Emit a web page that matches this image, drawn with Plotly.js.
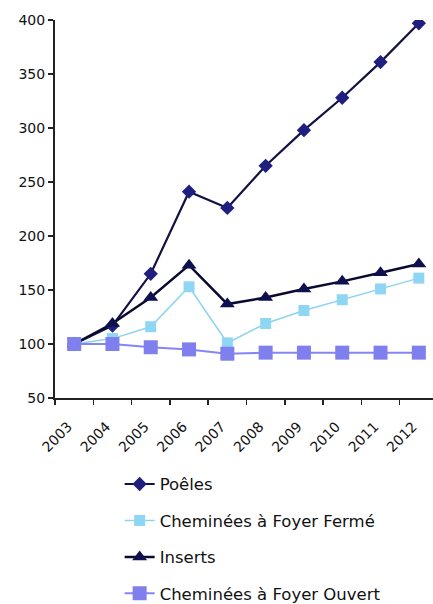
<!DOCTYPE html>
<html>
<head>
<meta charset="utf-8">
<script src="https://cdn.plot.ly/plotly-3.0.1.min.js"></script>
<style>html,body{margin:0;padding:0;background:#fff;}#chart{width:433px;height:604px;}</style>
</head>
<body>
<div id="chart"></div>
<script>
const years = ["2003","2004","2005","2006","2007","2008","2009","2010","2011","2012"];
const poeles = [100, 117, 165, 241, 226, 265, 298, 328, 361, 397];
const fermees = [100, 105, 116, 153, 101, 119, 131, 141, 151, 161];
const inserts = [100, 119, 143, 173, 137, 143, 151, 158, 166, 174];
const ouvertes = [100, 100, 97, 95, 91, 92, 92, 92, 92, 92];
const names = ["Poêles", "Cheminées à Foyer Fermé", "Inserts", "Cheminées à Foyer Ouvert"];

const traces = [
  {x: years, y: poeles, name: names[0], legendgroup: "a", mode: "lines+markers",
   line: {color: "#121240", width: 2.2}, marker: {symbol: "diamond", size: 11, color: "#1f1f80"}},
  {x: years, y: fermees, name: names[1], legendgroup: "b", mode: "lines+markers",
   line: {color: "#8ed3f0", width: 1.5}, marker: {symbol: "square", size: 11, color: "#8fd6f4"}},
  {x: years, y: inserts, name: names[2], legendgroup: "c", mode: "lines+markers",
   line: {color: "#0a0a30", width: 2.5}, marker: {symbol: "triangle-up", size: 13, color: "#0f1050"}},
  {x: years, y: ouvertes, name: names[3], legendgroup: "d", mode: "lines+markers",
   line: {color: "#8585f5", width: 2}, marker: {symbol: "square", size: 14, color: "#7f7fee"}}
];

const layout = {
  width: 433, height: 604,
  margin: {l: 55, r: 0, t: 20, b: 206, autoexpand: false},
  paper_bgcolor: "#ffffff", plot_bgcolor: "#ffffff",
  font: {family: "DejaVu Sans, Verdana, sans-serif", size: 14, color: "#111"},
  showlegend: true,
  legend: {orientation: "v", x: 0.171, xanchor: "left", y: -0.182, yanchor: "top",
           traceorder: "grouped", tracegroupgap: 12, font: {size: 16.5, color: "#111"},
           bgcolor: "rgba(0,0,0,0)"},
  xaxis: {type: "category", range: [-0.5, 9.37], showgrid: false, showline: true,
          linecolor: "#222", linewidth: 2, ticks: "outside", ticklen: 5, tickwidth: 1.5,
          tickcolor: "#222", tickson: "boundaries", tickangle: -45, ticklabelstandoff: 13,
          ticklabelshift: -6, tickfont: {size: 14}, zeroline: false, fixedrange: true},
  yaxis: {range: [50, 400], dtick: 50, showgrid: false, showline: true,
          linecolor: "#222", linewidth: 2, ticks: "outside", ticklen: 5, tickwidth: 1.5,
          tickcolor: "#222", tickfont: {size: 14}, zeroline: false, fixedrange: true}
};

Plotly.newPlot("chart", traces, layout, {displayModeBar: false, staticPlot: true});
</script>
</body>
</html>
